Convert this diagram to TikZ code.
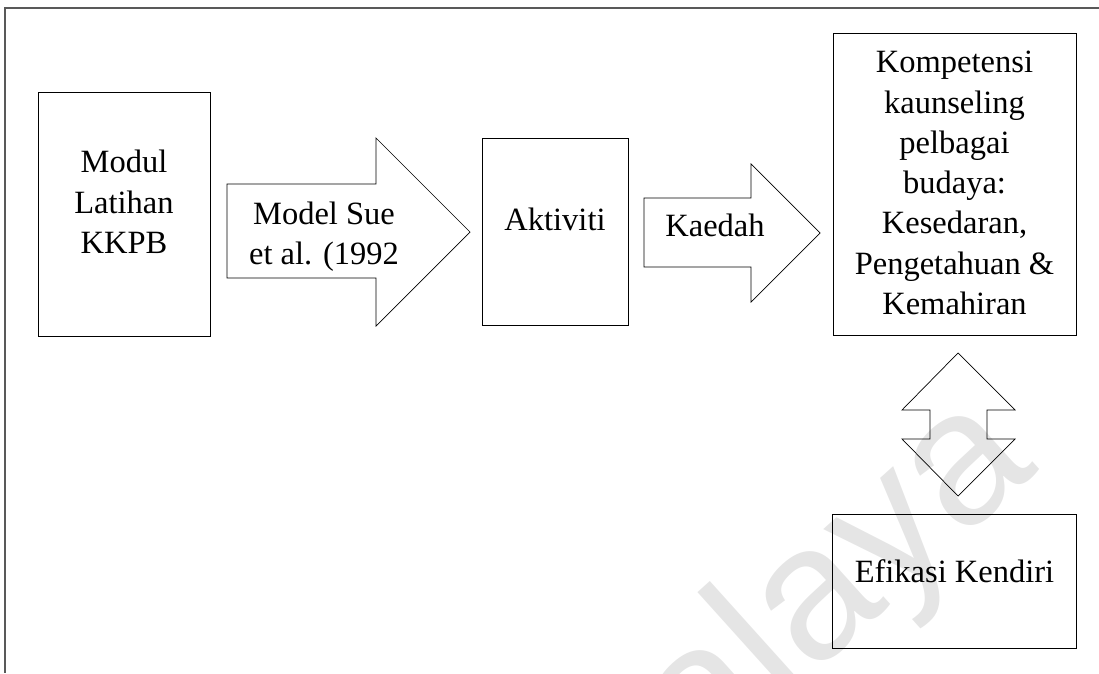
\documentclass[tikz,border=0pt]{standalone}
\usepackage{fontspec}
\setmainfont{Liberation Serif}
\newfontfamily\wmfont{Liberation Sans}
\begin{document}
\begin{tikzpicture}[x=1pt,y=-1pt,
  box/.style={draw=black, line width=0.8pt, inner sep=0pt, outer sep=0pt, anchor=north west},
  blockarrow/.style={draw=black, line width=0.7pt, line join=miter},
  lbl/.style={font=\fontsize{32.5}{40.3}\selectfont, inner sep=0pt, align=center},
  frameline/.style={draw=black!65, line width=1.4pt},
  watermark/.style={font=\wmfont\fontsize{190}{190}\selectfont, text=black!10,
    rotate=42, anchor=base east, inner sep=0pt}]
\useasboundingbox (0,0) rectangle (1099,673);

% faint repository watermark
\node[watermark] (wm) at (1040,470) {Malaya};

% page frame (top and left rules)
\coordinate (ftr) at (1099,8);
\coordinate (ftl) at (5,8);
\coordinate (fbl) at (5,673);
\draw[frameline] (ftr) -- (ftl) -- (fbl);

% boxes
\node[box, minimum width=172, minimum height=244] (modul) at (38,92) {};
\node[box, minimum width=146, minimum height=187] (aktiviti) at (482,138) {};
\node[box, minimum width=243, minimum height=302] (kompetensi) at (833,33) {};
\node[box, minimum width=244, minimum height=134] (efikasi) at (832,514) {};

% block arrows
\draw[blockarrow] (227,184) -- (376,184) -- (376,138) -- (470,232)
  -- (376,326) -- (376,278) -- (227,278) -- cycle;
\draw[blockarrow] (644,198) -- (751,198) -- (751,164) -- (820,233)
  -- (751,302) -- (751,267) -- (644,267) -- cycle;
\draw[blockarrow] (958,353) -- (1015,410) -- (987,410) -- (987,439)
  -- (1015,439) -- (958,496) -- (902,439) -- (930,439) -- (930,410)
  -- (902,410) -- cycle;

% texts
\node[lbl] (modultxt) at (124,202) {Modul\\Latihan\\KKPB};
\node[lbl] (suetxt) at (324,236.5) {Model Sue\\et al. (1992};
\node[lbl, anchor=base] (akttxt) at (555,230) {Aktiviti};
\node[lbl, anchor=base] (kaedahtxt) at (715,236) {Kaedah};
\node[lbl] (komptxt) at (954.5,183) {Kompetensi\\kaunseling\\pelbagai\\budaya:\\Kesedaran,\\Pengetahuan \&\\Kemahiran};
\node[lbl, anchor=base] (efktxt) at (954.5,582) {Efikasi Kendiri};
\end{tikzpicture}
\end{document}
